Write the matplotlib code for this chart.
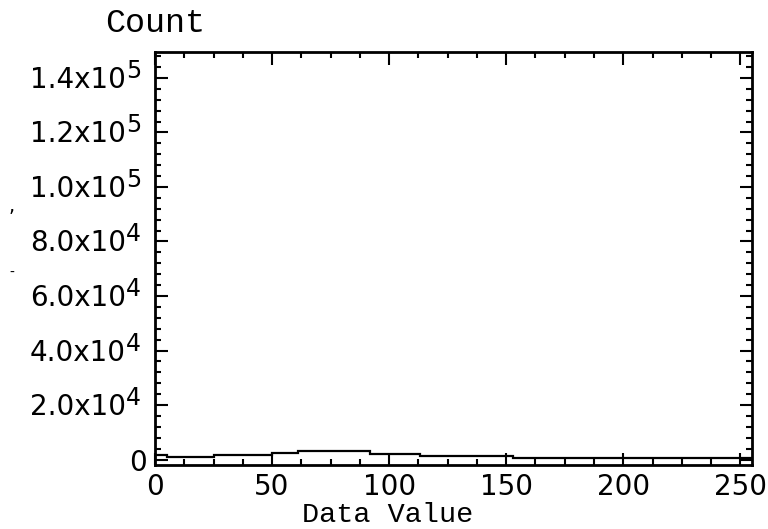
import matplotlib
matplotlib.use("Agg")
import matplotlib.pyplot as plt
from matplotlib.ticker import MultipleLocator, FixedLocator, NullFormatter
from matplotlib.transforms import blended_transform_factory, ScaledTranslation

# Histogram: step edges (data value) and counts per step
bin_edges = [0, 5, 25, 50, 61, 92, 113, 153, 255]
counts = [1650, 800, 1550, 2400, 3100, 2000, 1400, 550]

y_ticks = [0, 20000, 40000, 60000, 80000, 100000, 120000, 140000]
y_mantissa = ["0", "2.0x10", "4.0x10", "6.0x10", "8.0x10", "1.0x10", "1.2x10", "1.4x10"]
y_exponent = ["", "4", "4", "4", "4", "5", "5", "5"]
x_ticks = [0, 50, 100, 150, 200, 250]

DPI = 100
fig = plt.figure(figsize=(7.68, 5.29), dpi=DPI)
ax = fig.add_axes([155/768, 1-465/529, (752-155)/768, (465-52)/529])

ax.stairs(counts, bin_edges, color="black", linewidth=1.6, baseline=None)

ax.set_xlim(0, 255)
ax.set_ylim(-2000, 149500)

ax.xaxis.set_major_locator(FixedLocator(x_ticks))
ax.xaxis.set_minor_locator(MultipleLocator(12.5))
ax.yaxis.set_major_locator(FixedLocator(y_ticks))
ax.yaxis.set_minor_locator(MultipleLocator(4000))
ax.yaxis.set_major_formatter(NullFormatter())
ax.set_xticklabels([str(v) for v in x_ticks])

for s in ax.spines.values():
    s.set_linewidth(2.0)

ax.tick_params(which="both", direction="in", top=True, right=True, width=1.5,
               colors="black")
ax.tick_params(axis="x", labelsize=20, pad=6)
ax.tick_params(which="major", length=9)
ax.tick_params(which="minor", length=4.5)

base = blended_transform_factory(ax.transAxes, ax.transData)
for v, m, e in zip(y_ticks, y_mantissa, y_exponent):
    if e:
        t_main = base + ScaledTranslation(-29/DPI, -2/DPI, fig.dpi_scale_trans)
        t_exp = base + ScaledTranslation(-29/DPI, 7/DPI, fig.dpi_scale_trans)
        ax.text(0, v, m, transform=t_main, ha="right", va="center", fontsize=20,
                family="DejaVu Sans", clip_on=False)
        ax.text(0, v, e, transform=t_exp, ha="left", va="center", fontsize=17,
                family="DejaVu Sans", clip_on=False)
    else:
        t_main = base + ScaledTranslation(-8/DPI, -3/DPI, fig.dpi_scale_trans)
        ax.text(0, v, m, transform=t_main, ha="right", va="center", fontsize=20,
                family="DejaVu Sans", clip_on=False)

fig.text(155/768, 1-23/529, "Count", family="Liberation Mono", fontsize=24,
         ha="center", va="center")
fig.text(388/768, 1-515/529, "Data Value", family="Liberation Mono", fontsize=20.5,
         ha="center", va="center")
fig.text(12/768, 1-207/529, ",", fontsize=14, ha="center", va="center")
fig.text(12/768, 1-273/529, "-", fontsize=10, ha="center", va="center")

fig.savefig("out.png", dpi=DPI)
